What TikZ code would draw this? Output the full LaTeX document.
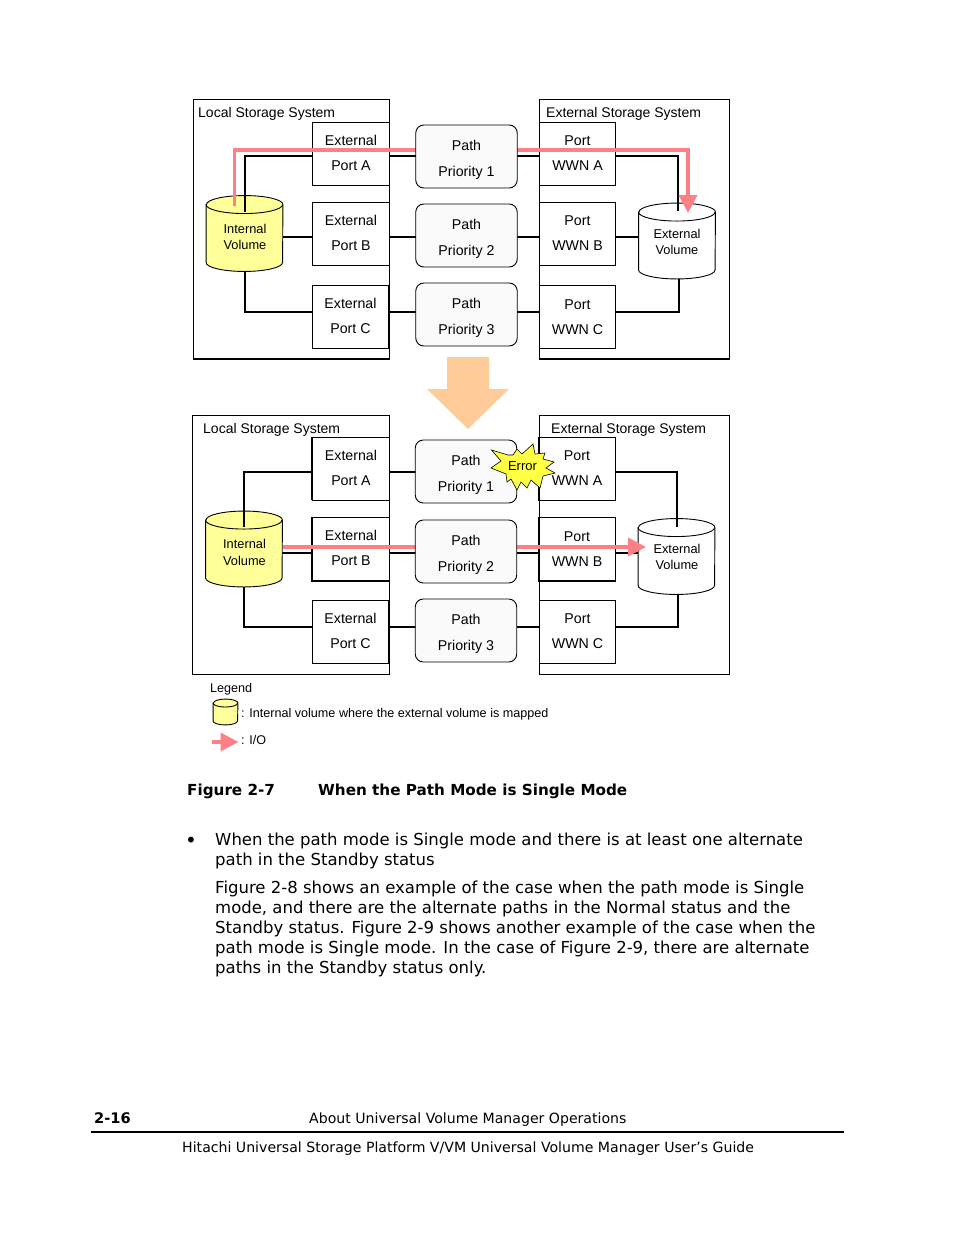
\documentclass[tikz,border=0pt]{standalone}
\usepackage{fontspec}
\setmainfont{Liberation Sans}
\newfontfamily\guidefont{DejaVu Sans}
\usetikzlibrary{arrows.meta,positioning}
\definecolor{iopink}{HTML}{FF7F86}
\definecolor{stepor}{HTML}{FFCC99}
\definecolor{volyellow}{HTML}{FFFF99}
\definecolor{errorstar}{HTML}{FFFF44}
\definecolor{pathgray}{HTML}{FAFAFA}
% #1 node name, #2 fill, #3 half width, #4 half height of the end ellipse
\newcommand{\volumeoutline}[4]{%
    \draw[line width=0.9pt,fill=#2] ([yshift=-#4]#1.north west) -- ([yshift=#4]#1.south west)
        arc[start angle=180,end angle=360,x radius=#3,y radius=#4]
        -- ([yshift=-#4]#1.north east)
        arc[start angle=0,end angle=180,x radius=#3,y radius=#4] -- cycle;
    \draw[line width=0.9pt] ([yshift=-#4]#1.north west)
        arc[start angle=180,end angle=360,x radius=#3,y radius=#4];
}

\begin{document}
\begin{tikzpicture}
                [x=1pt, y=-1pt, >=stealth,
                system box/.style={draw,line width=1pt,minimum width=#1,minimum height=259pt,inner sep=0pt},
                port box/.style={draw,line width=0.9pt,minimum width=76.5pt,minimum height=63pt,inner sep=0pt,
                    align=center,font=\fontsize{14.2}{25}\selectfont},
                path box/.style={draw,line width=0.9pt,rounded corners=8pt,fill=pathgray,minimum width=101.5pt,
                    minimum height=63pt,inner sep=0pt},
                path label/.style={inner sep=0pt,align=center,font=\fontsize{14.2}{25.5}\selectfont},
                system label/.style={anchor=west,inner sep=0pt,font=\fontsize{14}{17}\selectfont},
                volume/.style={minimum width=#1,inner sep=0pt},
                volume label/.style={inner sep=0pt,align=center,font=\fontsize{12.8}{16.5}\selectfont},
                link/.style={line width=2pt},
                io path/.style={iopink,line width=3.8pt,-{Triangle[length=18pt,width=18pt]}},
                legend text/.style={anchor=west,inner sep=0pt,font=\fontsize{12.6}{15}\selectfont},
                guide text/.style={anchor=base west,inner sep=0pt,font=\guidefont\fontsize{16.5}{20}\selectfont},
                guide foot/.style={anchor=base west,inner sep=0pt,font=\guidefont\fontsize{14.1}{20}\selectfont},
                guide bold/.style={anchor=base west,inner sep=0pt,font=\guidefont\bfseries\fontsize{15.2}{20}\selectfont},
                ]
                \useasboundingbox (0,0) rectangle (954,1235);

                % upper and lower system frames
                \node[system box=196pt] (local1) at (291,229) {};
                \node[system box=190pt] (ext1) at (634,229) {};
                \node[system box=197pt] (local2) at (290.5,544.5) {};
                \node[system box=190pt] (ext2) at (634,544.5) {};
                \draw[line width=2pt] (local1.south west) -- (local1.south east);
                \draw[line width=2pt] (ext1.south west) -- (ext1.south east);
                \node[system label] (locallabel1) at (198,114) {Local Storage System};
                \node[system label] (extlabel1) at (546,114) {External Storage System};
                \node[system label] (locallabel2) at (203,430) {Local Storage System};
                \node[system label] (extlabel2) at (551,430) {External Storage System};

                % ports, one row per path
                \foreach \p/\r/\L/\xp/\yp/\xw in {1/a/A/351/153.5/577.5, 1/b/B/351/233.5/577.5, 1/c/C/350.5/317/577.5,
                                                  2/a/A/351/468.5/577, 2/b/B/351/549/577, 2/c/C/350.5/631.5/577.5} {
                    \node[port box,execute at end node={\rule[-2pt]{0pt}{2pt}}] (port\p\r) at (\xp,\yp) {External\\Port \L};
                    \node[port box] (wwn\p\r) at (\xw,\yp) {Port\\WWN \L};
                }
                \draw[line width=1.8pt] (port2b.north west) |- (port2b.south east);
                \draw[line width=1.8pt] (port2a.north west) -- (port2a.south west);
                \draw[line width=1.8pt] (wwn2b.south west) -- (wwn2b.south east);

                % volumes
                \node[volume=76.5pt,minimum height=75.5pt] (int1) at (244.5,233.5) {};
                \node[volume=76.5pt,minimum height=75.5pt] (extv1) at (677,241) {};
                \node[volume=76.5pt,minimum height=75.5pt] (int2) at (244,549) {};
                \node[volume=76.5pt,minimum height=75.5pt] (extv2) at (676.5,556.5) {};
                \volumeoutline{int1}{volyellow}{38.25pt}{9pt}
                \volumeoutline{extv1}{white}{38.25pt}{9pt}
                \volumeoutline{int2}{volyellow}{38.25pt}{9pt}
                \volumeoutline{extv2}{white}{38.25pt}{9pt}
                \node[volume label] (intlabel1) at (245,237) {Internal\\Volume};
                \node[volume label] (extvlabel1) at (677,242) {External\\Volume};
                \node[volume label] (intlabel2) at (244.5,552.5) {Internal\\Volume};
                \node[volume label] (extvlabel2) at (677,557) {External\\Volume};

                % levels of the connectors
                \coordinate (rowa1) at (0,156);
                \coordinate (rowb1) at (0,236.5);
                \coordinate (rowc1) at (0,311.5);
                \coordinate (rowa2) at (0,472);
                \coordinate (rowb2) at (0,553);
                \coordinate (rowc2) at (0,627);
                \coordinate (inta1) at (245,212);
                \coordinate (exta1) at (678,211);
                \coordinate (extc1) at (679,279);
                \coordinate (inta2) at (244,527);
                \coordinate (exta2) at (677,527);
                \coordinate (extc2) at (678,594);

                % black connectors
                \foreach \p/\r in {1/a,1/b,1/c,2/a,2/b,2/c} {
                    \draw[link] (port\p\r.east |- row\r\p) -- (wwn\p\r.west |- row\r\p);
                }
                \draw[link] (inta1) |- (port1a.west |- rowa1);
                \draw[link] (int1.east |- rowb1) -- (port1b.west |- rowb1);
                \draw[link] (int1.south) |- (port1c.west |- rowc1);
                \draw[link] (wwn1a.east |- rowa1) -| (exta1);
                \draw[link] (wwn1b.east |- rowb1) -- (extv1.west |- rowb1);
                \draw[link] (wwn1c.east |- rowc1) -| (extc1);
                \draw[link] (inta2) |- (port2a.west |- rowa2);
                \draw[link] (int2.east |- rowb2) -- (port2b.west |- rowb2);
                \draw[link] (int2.south) |- (port2c.west |- rowc2);
                \draw[link] (wwn2a.east |- rowa2) -| (exta2);
                \draw[link] (wwn2b.east |- rowb2) -- (extv2.west |- rowb2);
                \draw[link] (wwn2c.east |- rowc2) -| (extc2);

                % i/o, the path boxes sit over it
                \coordinate (iostart1) at (234.5,205.5);
                \coordinate (iocorner1) at (688,150);
                \coordinate (iotip1) at (688,213);
                \coordinate (iostart2) at (282.5,547);
                \coordinate (iotip2) at (646,547);
                \draw[io path] (iostart1) |- (iocorner1) -- (iotip1);
                \draw[io path] (iostart2) -- (iotip2);
                \foreach \p/\r/\n/\x/\y in {1/a/1/466.5/156.5, 1/b/2/466.5/235.5, 1/c/3/466.5/314.5,
                                            2/a/1/466/471.5, 2/b/2/466/551.5, 2/c/3/466/630.5} {
                    \node[path box] (path\p\r) at (\x,\y) {};
                    \node[path label] (pathlabel\p\r) at ([yshift=-3.5pt]path\p\r.center) {Path\\Priority \n};
                }

                % step between the two states
                \fill[stepor] (447,357) -- (489,357) -- (489,389) -- (509,389) -- (468,429)
                    -- (427,389) -- (447,389) -- cycle;

                % error burst
                \draw[fill=errorstar,line width=0.6pt] (491.5,450) -- (508,455) -- (513,455) -- (517,449) -- (522,454) -- (533,444)
                    -- (535,454) -- (545,453) -- (543,459) -- (554,462) -- (546,468) -- (555,473)
                    -- (543,476) -- (540,488) -- (531,480) -- (527,488) -- (521,482) -- (517,490)
                    -- (511,479) -- (507,482) -- (506,474) -- (491,468) -- (501,461) -- cycle;
                \node[inner sep=0pt,font=\fontsize{13}{15}\selectfont] (errorlabel) at (522.5,466) {Error};

                % legend
                \node[legend text] (legendtitle) at (210,689) {Legend};
                \node[volume=24.5pt,minimum height=25.5pt] (legendvol) at (225.5,712) {};
                \volumeoutline{legendvol}{volyellow}{12.25pt}{4pt}
                \node[legend text] (legendvoltext) at (241,714) {: Internal volume where the external volume is mapped};
                \coordinate (legendio) at (212,742);
                \coordinate (legendtip) at (238.5,742);
                \draw[io path] (legendio) -- (legendtip);
                \node[legend text] (legendiotext) at (241,739.5) {: I/O};

                % page text
                \node[guide bold] (figno) at (187,795) {Figure 2-7};
                \node[guide bold] (figtitle) at (318,795) {When the Path Mode is Single Mode};
                \node[guide text,font=\guidefont\fontsize{20}{20}\selectfont] (bullet) at (185,847) {•};
                \node[guide text] (bullettext) at (215,845) {When the path mode is Single mode and there is at least one alternate};
                \node[guide text] (bullettext2) at (215,865) {path in the Standby status};
                \node[guide text] (para1) at (215,893) {Figure 2-8 shows an example of the case when the path mode is Single};
                \node[guide text] (para2) at (215,913) {mode, and there are the alternate paths in the Normal status and the};
                \node[guide text] (para3) at (215,933) {Standby status. Figure 2-9 shows another example of the case when the};
                \node[guide text] (para4) at (215,953) {path mode is Single mode. In the case of Figure 2-9, there are alternate};
                \node[guide text] (para5) at (215,973) {paths in the Standby status only.};
                \node[guide bold,font=\guidefont\bfseries\fontsize{14.6}{20}\selectfont] (pageno) at (94,1123) {2-16};
                \node[guide foot] (chapter) at (309,1123) {About Universal Volume Manager Operations};
                \coordinate (ruleleft) at (91,1132);
                \coordinate (ruleright) at (844,1132);
                \draw[line width=1.6pt] (ruleleft) -- (ruleright);
                \node[guide foot] (booktitle) at (182,1152) {Hitachi Universal Storage Platform V/VM Universal Volume Manager User’s Guide};
            \end{tikzpicture}
\end{document}
